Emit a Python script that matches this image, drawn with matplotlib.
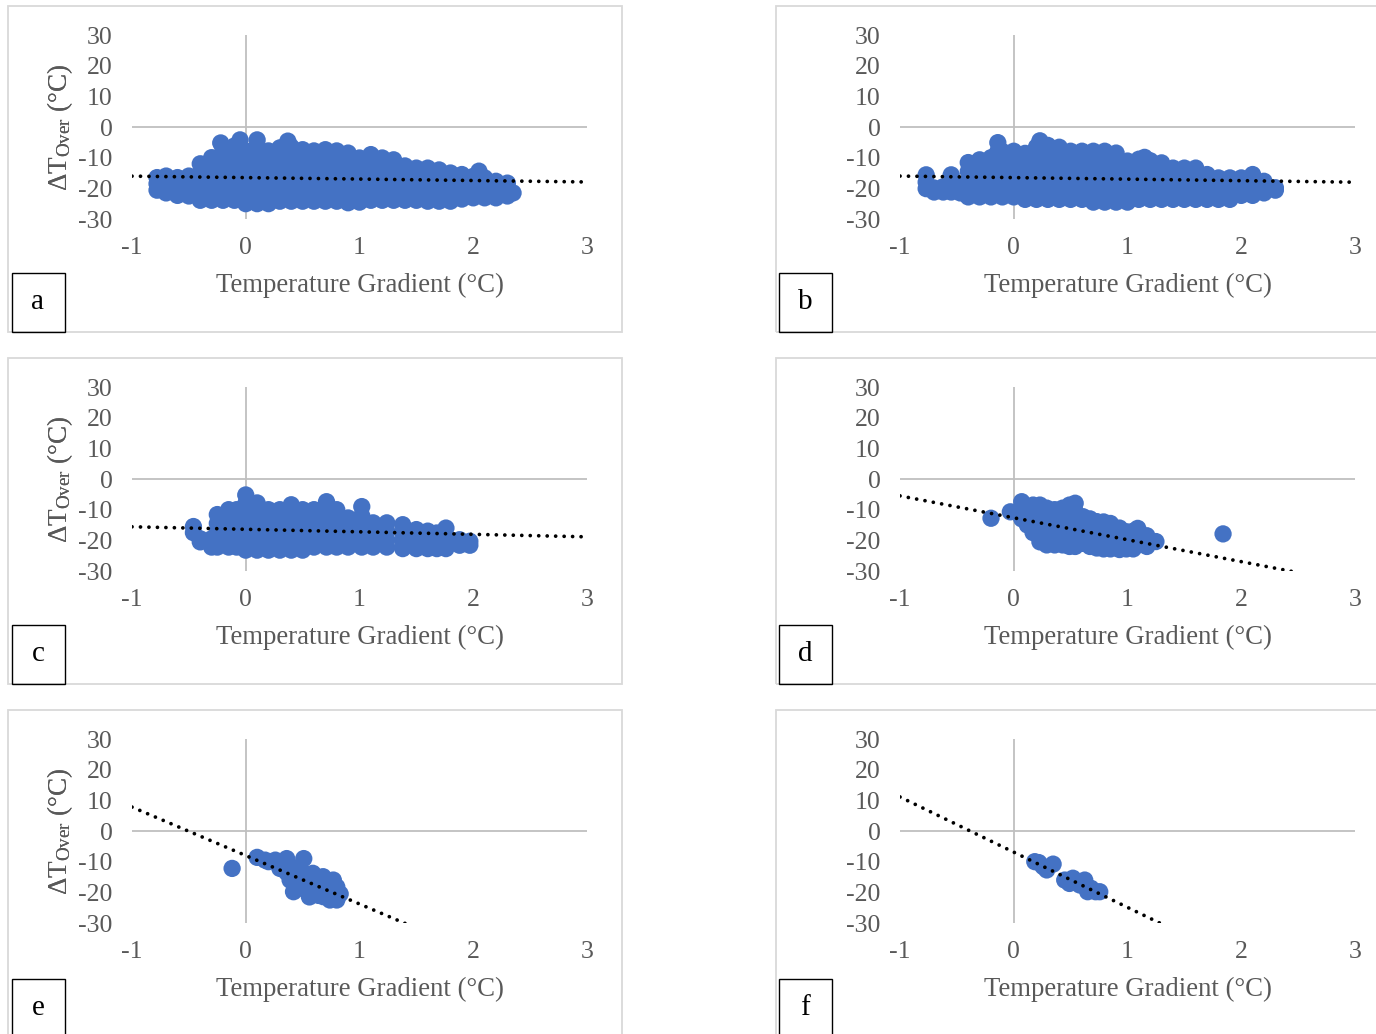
import matplotlib
matplotlib.use('Agg')
import matplotlib.pyplot as plt
from matplotlib.patches import Rectangle

plt.rcParams['font.family'] = ['Liberation Serif', 'DejaVu Serif']
plt.rcParams['mathtext.fontset'] = 'custom'
plt.rcParams['mathtext.rm'] = 'Liberation Serif'
plt.rcParams['mathtext.it'] = 'Liberation Serif:italic'
plt.rcParams['axes.unicode_minus'] = False

# ---------------- data ----------------
x_ticks = [-1, 0, 1, 2, 3]
y_ticks = [-30, -20, -10, 0, 10, 20, 30]
x_label = "Temperature Gradient (°C)"
y_label = r"ΔT$_{\mathrm{Over}}$ (°C)"
panel_labels = ["a", "b", "c", "d", "e", "f"]

# panel a: columns of points (x, list of y)
a_cols_x = [-0.78, -0.70, -0.60, -0.50, -0.40, -0.30, -0.22, -0.20, -0.10, -0.05,
            0.00, 0.10, 0.10, 0.20, 0.30, 0.37, 0.40, 0.50, 0.60, 0.70, 0.80, 0.90,
            1.00, 1.10, 1.20, 1.30, 1.40, 1.50, 1.60, 1.70, 1.80, 1.90, 2.00, 2.05,
            2.10, 2.20, 2.30, 2.35]
a_cols_y = [[-16.5, -18.5, -20.6], [-16, -19, -21.5], [-16.5, -19.5, -22.3],
            [-16, -19, -22.5], [-12, -15, -18, -21, -23.9],
            [-10, -13, -16, -19, -21.5, -23.9], [-5.2],
            [-7, -10, -13, -16, -19, -21.5, -23.9],
            [-6.2, -9, -12, -15, -18, -21, -23.9], [-4.2],
            [-7.8, -10.5, -13.5, -16.5, -19.5, -22.3, -25], [-4.2],
            [-6, -9, -12, -15, -18, -20.5, -23, -25],
            [-7.8, -10.5, -13.5, -16.5, -19.5, -22.3, -25],
            [-6.8, -9.8, -12.8, -15.8, -18.8, -21.5, -24.2], [-4.6],
            [-6.5, -9.5, -12.5, -15.5, -18.5, -21.5, -24.2],
            [-7.4, -10.4, -13.4, -16.4, -19.4, -22, -24.2],
            [-7.8, -10.8, -13.8, -16.8, -19.8, -22.3, -24.2],
            [-7.4, -10.4, -13.4, -16.4, -19.4, -22, -24.2],
            [-7.8, -10.8, -13.8, -16.8, -19.8, -22.3, -24.2],
            [-8.5, -11.5, -14.5, -17.5, -20.5, -22.8, -24.7],
            [-10.1, -13, -16, -19, -22, -24.5],
            [-9, -12, -15, -18, -21, -23.9],
            [-10.1, -13, -16, -19, -22, -23.9],
            [-10.7, -13.7, -16.7, -19.7, -22, -23.9],
            [-12.7, -15.5, -18.5, -21.3, -23.9],
            [-13.4, -16.2, -19, -21.5, -23.9],
            [-13.4, -16.2, -19, -21.5, -24.2],
            [-14, -17, -19.8, -22.3, -24.2],
            [-15, -17.8, -20.5, -22.8, -24.2],
            [-15.5, -18.2, -21, -23.5],
            [-16.1, -18.8, -21.3, -23.1], [-14.4],
            [-16.6, -19.2, -21.5, -23.1],
            [-17.7, -20.2, -23.1], [-18.3, -20.5, -22.5], [-21.5]]

# panel b
b_cols_x = [-0.77, -0.70, -0.62, -0.55, -0.47, -0.40, -0.30, -0.20, -0.14, -0.10,
            0.00, 0.10, 0.20, 0.23, 0.30, 0.40, 0.50, 0.60, 0.70, 0.80, 0.90,
            1.00, 1.10, 1.15, 1.20, 1.30, 1.40, 1.50, 1.60, 1.70, 1.80, 1.90,
            2.00, 2.10, 2.20, 2.30]
b_cols_y = [[-15.6, -18, -20.1], [-19.9, -21.2], [-19.5, -21.2],
            [-15.6, -18.5, -21.2], [-18.8, -21.5],
            [-11.6, -14.5, -17.5, -20, -22.8],
            [-10.7, -13.5, -16.5, -19.5, -22.8],
            [-10, -13, -16, -19, -22.8], [-5.1, -8],
            [-8, -11, -14, -17, -20, -22.8],
            [-7.9, -10.8, -13.8, -16.8, -19.8, -22.8],
            [-8.6, -11.5, -14.5, -17.5, -20.5, -23.6],
            [-6.5, -9.5, -12.5, -15.5, -18.5, -21, -23.6], [-4.5],
            [-6, -9, -12, -15, -18, -21, -23.6],
            [-6.6, -9.6, -12.6, -15.6, -18.6, -21.3, -23.6],
            [-7.9, -10.8, -13.8, -16.8, -19.8, -22, -23.6],
            [-7.9, -10.8, -13.8, -16.8, -19.8, -22, -23.6],
            [-7.9, -10.8, -13.8, -16.8, -19.8, -22.3, -24.5],
            [-7.9, -10.8, -13.8, -16.8, -19.8, -22.3, -24.5],
            [-8.5, -11.5, -14.5, -17.5, -20.5, -22.8, -24.5],
            [-11.1, -14, -17, -20, -22.5, -24.5],
            [-10.5, -13.5, -16.5, -19.5, -22, -23.6], [-9.9],
            [-11, -14, -17, -20, -22, -23.6],
            [-11.7, -14.5, -17.5, -20.3, -23.6],
            [-13.4, -16.3, -19.2, -21.8, -23.6],
            [-13.4, -16.3, -19.2, -21.8, -23.6],
            [-13.4, -16.3, -19.2, -21.8, -23.6],
            [-15.5, -18.2, -21, -23.6],
            [-16.6, -19.3, -21.8, -23.6],
            [-16.6, -19.3, -21.8, -23.6],
            [-16.6, -19.3, -21.5, -22.3],
            [-15.5, -18, -20.5, -22.3],
            [-17.7, -20, -21.5], [-19.8, -20.6]]

# panel c
c_cols_x = [-0.46, -0.40, -0.30, -0.25, -0.15, -0.08, 0.00, 0.10, 0.20, 0.30,
            0.40, 0.50, 0.60, 0.71, 0.80, 0.90, 1.02, 1.12, 1.24, 1.38, 1.50,
            1.60, 1.68, 1.76, 1.88, 1.97]
c_cols_y = [[-15.5, -17.5], [-19.5, -20.5], [-19.5, -22.2],
            [-11.6, -14.5, -17.5, -20, -22.2],
            [-10, -13, -16, -19, -22.2], [-10, -13, -16, -19, -22.2],
            [-5.2, -8, -11, -14, -17, -20, -23.2],
            [-7.8, -10.8, -13.8, -16.8, -19.8, -21.8, -23.2],
            [-10, -13, -16, -19, -21.5, -23.2],
            [-10, -13, -16, -19, -21.5, -23.2],
            [-8.4, -11.4, -14.4, -17.4, -20.4, -23.2],
            [-10, -13, -16, -19, -21.5, -23.2],
            [-10, -13, -16, -19, -22.2],
            [-7.4, -10, -13, -16, -19, -22.2],
            [-10, -13, -16, -19, -22.2],
            [-12.7, -15.5, -18.5, -20.5, -22.2],
            [-9, -12, -15, -18, -20.5, -22.2],
            [-14.3, -17, -19.8, -22.2],
            [-14.3, -17, -19.8, -22.2],
            [-14.9, -17.5, -20.2, -22.7],
            [-16.5, -19.2, -22.7],
            [-17, -19.8, -22.7],
            [-17.6, -20.2, -22.7],
            [-16, -18.8, -21.5, -22.7],
            [-19.8, -21.6], [-20.3, -21.6]]

# panel d
d_cols_x = [-0.20, -0.03, 0.07, 0.12, 0.17, 0.23, 0.29, 0.36, 0.43, 0.49, 0.54,
            0.61, 0.67, 0.73, 0.79, 0.85, 0.93, 0.99, 1.05, 1.09, 1.17, 1.25, 1.84]
d_cols_y = [[-12.8], [-10.7], [-7.4, -10, -13], [-9, -12, -15],
            [-8.5, -11.5, -14.5, -17.5], [-8.5, -11.5, -14.5, -17.5, -20.5],
            [-9.5, -12.5, -15.5, -18.5, -21.5], [-10, -13, -16, -19, -21.5],
            [-9.5, -12.5, -15.5, -18.5, -21.5],
            [-8.5, -11.5, -14.5, -17.5, -20.5, -22],
            [-7.9, -10.5, -13.5, -16.5, -19.5, -22],
            [-12.3, -15, -18, -21], [-13, -16, -19, -22],
            [-13.9, -16.8, -19.8, -22.5], [-14, -17, -20, -22.8],
            [-14.5, -17.3, -20.3, -22.8], [-16, -19, -21.5, -23],
            [-17.2, -20, -22.8], [-17, -20, -22.8], [-16.1, -19, -21.5],
            [-18.5, -21, -22], [-20.4], [-17.9]]

# panel e
e_x = [-0.12, 0.10, 0.17, 0.20, 0.26, 0.30, 0.36, 0.36, 0.42, 0.475, 0.51, 0.39,
       0.42, 0.46, 0.50, 0.50, 0.56, 0.56, 0.59, 0.62, 0.64, 0.68, 0.68, 0.71,
       0.74, 0.77, 0.80, 0.80, 0.83, 0.74]
e_y = [-12.2, -8.6, -9.5, -10.0, -9.5, -12.2, -9.0, -13.5, -12.0, -12.2, -9.0, -16.0,
       -19.8, -17.5, -18.7, -14.5, -21.5, -16.0, -13.8, -18.2, -21.0, -14.9, -21.4, -18.2,
       -16.5, -16.0, -18.2, -22.5, -20.5, -22.5]

# panel f
f_x = [0.185, 0.22, 0.258, 0.29, 0.346, 0.448, 0.49, 0.52, 0.58, 0.624, 0.65, 0.68,
       0.72, 0.756]
f_y = [-10.0, -10.3, -11.6, -12.7, -10.8, -16.0, -17.1, -15.4, -17.6, -16.0, -19.8,
       -18.7, -19.8, -19.8]

# linear trend lines: (slope, intercept)
trend_slope = [-0.475, -0.5, -0.82, -7.15, -15.8, -18.0]
trend_intercept = [-16.5, -16.5, -16.4, -12.65, -8.0, -6.9]


def flatten(cols_x, cols_y):
    xs, ys = [], []
    for x, yl in zip(cols_x, cols_y):
        xs += [x] * len(yl)
        ys += list(yl)
    return xs, ys


a_x, a_y = flatten(a_cols_x, a_cols_y)
b_x, b_y = flatten(b_cols_x, b_cols_y)
c_x, c_y = flatten(c_cols_x, c_cols_y)
d_x, d_y = flatten(d_cols_x, d_cols_y)
series = [(a_x, a_y), (b_x, b_y), (c_x, c_y), (d_x, d_y), (e_x, e_y), (f_x, f_y)]

# ---------------- layout ----------------
W, H = 1376, 1034
fig = plt.figure(figsize=(W / 100, H / 100), dpi=100)


def fx(px):
    return px / W


def fy(py):
    return 1 - py / H


ax_left = [132, 900]
ax_w = 455
ax_top = [35, 387, 739]
ax_h = 184
border_left = [8, 776]
border_right = [622, 1382]
border_top = [6, 358, 710]
border_bottom = [332, 684, 1038]
lab_left = [12, 779]

grey = '#595959'
blue = '#4472C4'

for i in range(6):
    row, col = i // 2, i % 2
    # panel frame
    bl, br = border_left[col], border_right[col]
    bt, bb = border_top[row], border_bottom[row]
    fig.add_artist(Rectangle((fx(bl), fy(bb)), fx(br) - fx(bl), fy(bt) - fy(bb),
                             transform=fig.transFigure, fill=False,
                             edgecolor='#D9D9D9', lw=1.3))
    ax = fig.add_axes([fx(ax_left[col]), fy(ax_top[row] + ax_h),
                       fx(ax_w), ax_h / H])
    ax.set_xlim(-1, 3)
    ax.set_ylim(-30, 30)
    for s in ax.spines.values():
        s.set_visible(False)
    ax.axhline(0, color='#BFBFBF', lw=1.3, zorder=1)
    ax.axvline(0, color='#BFBFBF', lw=1.3, zorder=1)
    ax.set_xticks(x_ticks)
    ax.set_yticks(y_ticks)
    ax.tick_params(axis='both', length=0, labelsize=18.5, labelcolor=grey)
    ax.tick_params(axis='x', pad=13)
    ax.tick_params(axis='y', pad=14)
    xs, ys = series[i]
    ax.scatter(xs, ys, s=155, color=blue, edgecolors='none', zorder=2)
    lx = [-1, 3]
    ly = [trend_intercept[i] + trend_slope[i] * v for v in lx]
    ax.plot(lx, ly, color='black', lw=2.7, linestyle=(0, (0.01, 2.25)),
            dash_capstyle='round', zorder=3)
    ax.text(0.5, (ax_top[row] + ax_h - (ax_top[row] + 250)) / ax_h, x_label,
            transform=ax.transAxes, ha='center', va='center', fontsize=19.3,
            color=grey)
    ax.text((60 - ax_left[col]) / ax_w, 0.5, y_label, transform=ax.transAxes,
            rotation=90, ha='center', va='center', fontsize=19.5, color=grey)
    # label box
    ll = lab_left[col]
    lt = bb - 59
    fig.add_artist(Rectangle((fx(ll), fy(bb)), fx(53), 59 / H,
                             transform=fig.transFigure, fill=False,
                             edgecolor='black', lw=1.0))
    fig.text(fx(ll + 26), fy(lt + 29), panel_labels[i], ha='center', va='center',
             fontsize=21, color='black')

fig.savefig('out.png', dpi=100)
